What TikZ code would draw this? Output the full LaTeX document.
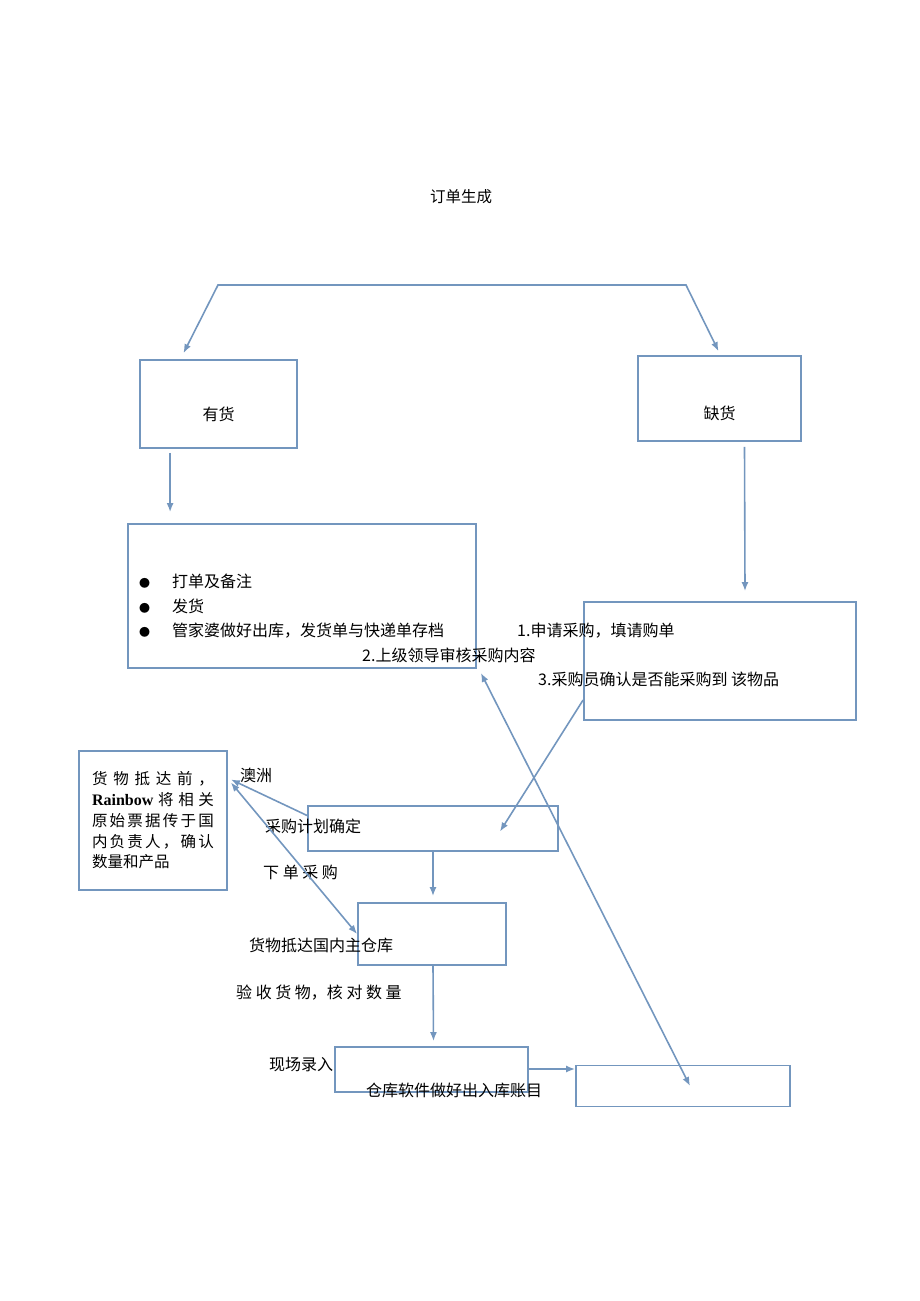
\documentclass[tikz,border=0pt]{standalone}
\usepackage{fontspec}
\setmainfont{Noto Sans CJK SC}
\newfontfamily\latinserif{Liberation Serif}
\usetikzlibrary{arrows.meta}
\definecolor{flowblue}{RGB}{115,150,190}
\newcommand{\bodyfont}{\fontsize{16}{20}\selectfont}
\newcommand{\itemdot}{\makebox[33pt][l]{\fontsize{11}{11}\selectfont ●}}
\tikzset{
  box/.style={draw=flowblue, line width=1.8pt, inner sep=0pt, font=\bodyfont},
  flow/.style={draw=flowblue, line width=1.6pt, ->},
  twoway/.style={draw=flowblue, line width=1.6pt, <->},
  txt/.style={inner sep=0pt, anchor=west, font=\bodyfont},
}
\begin{document}
\begin{tikzpicture}[x=1pt, y=-1pt, >={Latex[length=9pt,width=7pt]}]
        \useasboundingbox (0,0) rectangle (920,1301);
        \node[font=\fontsize{15.5}{18}\selectfont] (title) at (461,197) {订单生成};
        %
        \node[box, minimum width=157, minimum height=88, text height=34pt] (yes) at (218.5,404) {有货};
        \node[box, minimum width=163, minimum height=85, text height=43pt] (no) at (719.5,398.5) {缺货};
        \node[box, minimum width=348, minimum height=144, text width=326, align=left,
              font=\fontsize{16}{24.5}\selectfont] (stock) at (302,596)
              {\mbox{}\\[10pt]
               \itemdot 打单及备注\\
               \itemdot 发货\\
               \itemdot 管家婆做好出库，发货单与快递单存档};
        \node[box, minimum width=272, minimum height=118] (buy) at (720,661) {};
        \node[box, minimum width=250, minimum height=45] (plan) at (433,828.5) {};
        \node[box, minimum width=148, minimum height=139, text width=122, align=left,
              font=\fontsize{15.5}{20.8}\selectfont] (info) at (153,820.5)
              {\makebox[\linewidth][s]{货\hfill 物\hfill 抵\hfill 达\hfill 前\hfill ，}\\
               \makebox[\linewidth][s]{{\latinserif\bfseries\fontsize{16}{20}\selectfont Rainbow}\hfill 将\hfill 相\hfill 关}\\
               \makebox[\linewidth][s]{原\hfill 始\hfill 票\hfill 据\hfill 传\hfill 于\hfill 国}\\
               \makebox[\linewidth][s]{内\hfill 负\hfill 责\hfill 人\hfill ，\hfill 确\hfill 认}\\
               数量和产品};
        \node[box, minimum width=148, minimum height=62] (arrive) at (432,934) {};
        \node[box, minimum width=193, minimum height=45] (entry) at (431.5,1069.5) {};
        \node[box, minimum width=214, minimum height=41] (ledger) at (683,1086) {};
        %
        \node[txt] (req1) at (517,631) {1.申请采购，填请购单};
        \node[txt] (req2) at (362,655) {2.上级领导审核采购内容};
        \node[txt] (req3) at (538,679) {3.采购员确认是否能采购到 该物品};
        \node[txt] (aus) at (240,775) {澳洲};
        \node[txt] (planlbl) at (265,826) {采购计划确定};
        \node[txt] (orderlbl) at (263,872) {下 单 采 购};
        \node[txt] (arrlbl) at (249,945) {货物抵达国内主仓库};
        \node[txt] (checklbl) at (236,993) {验 收 货 物，核 对 数 量};
        \node[txt] (entrylbl) at (269,1065) {现场录入};
        \node[txt] (ledgerlbl) at (366,1090) {仓库软件做好出入库账目};
        %
        \coordinate (splitL) at (218,285);
        \coordinate (splitR) at (686,285);
        \draw[twoway] ([xshift=-35pt,yshift=6pt]yes.north) -- (splitL) -- (splitR) -- ([xshift=-1pt,yshift=4pt]no.north);
        \draw[flow] ([xshift=31pt,yshift=-4pt]yes.south west) -- ([xshift=43pt,yshift=11pt]stock.north west);
        \draw[flow] ([xshift=25pt,yshift=-5pt]no.south) -- ([xshift=25pt,yshift=10pt]buy.north);
        \draw[flow] ([yshift=-39pt]buy.west) -- ([xshift=67pt,yshift=-3pt]plan.center);
        \draw[twoway] ([xshift=4pt,yshift=-4pt]stock.south east) -- ([xshift=7pt]ledger.center);
        %
        \draw[flow] ([yshift=13pt]plan.west) -- ([xshift=3pt,yshift=41pt]info.east);
        \draw[twoway] ([xshift=3pt,yshift=38pt]info.east) -- (arrive.west);
        \draw[flow] (plan.south) -- ([xshift=1pt,yshift=6pt]arrive.north);
        \draw[flow] ([xshift=1pt]arrive.south) -- ([xshift=2pt,yshift=5pt]entry.north);
        \draw[flow] ([yshift=0.5pt]entry.east) -- ([yshift=17pt]ledger.west);
\end{tikzpicture}
\end{document}
